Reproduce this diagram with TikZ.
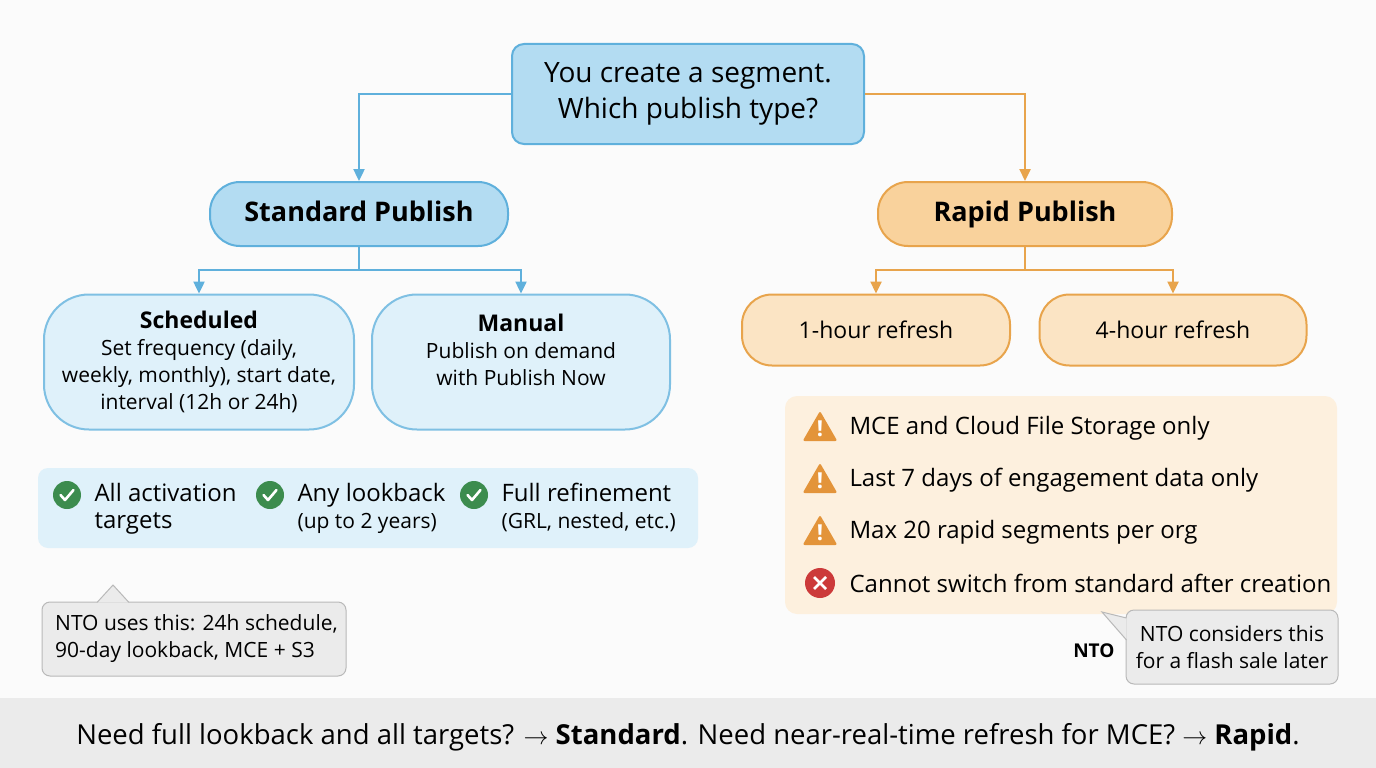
\documentclass[tikz,border=0pt]{standalone}
\usepackage{fontspec}
\setmainfont{Open Sans}
\usetikzlibrary{positioning,arrows.meta,shapes.geometric,shapes.callouts}
\definecolor{bluefill}{HTML}{B3DCF2}
\definecolor{blueline}{HTML}{5FB0DC}
\definecolor{bluelight}{HTML}{DFF1FA}
\definecolor{orfill}{HTML}{F9D29C}
\definecolor{orline}{HTML}{E8A44C}
\definecolor{orlight}{HTML}{FDF0DE}
\definecolor{okgreen}{HTML}{3C8C4E}
\definecolor{warnor}{HTML}{E3943A}
\definecolor{errred}{HTML}{CC3A3A}
\definecolor{notegray}{HTML}{EBEBEB}
\tikzset{
  blueflow/.style={draw=blueline, line width=2.4pt, -{Triangle[length=12pt,width=11pt]}},
  orflow/.style={draw=orline, line width=2.4pt, -{Triangle[length=12pt,width=11pt]}},
  pill/.style={rounded corners=30pt, line width=2pt, align=center, inner sep=0pt},
  item/.style={anchor=west, align=left, font=\fontsize{24}{27}\selectfont},
  okmark/.style={circle, fill=okgreen, minimum size=28pt, inner sep=0pt},
  warnmark/.style={regular polygon, regular polygon sides=3, fill=warnor, rounded corners=2pt, minimum size=40pt, inner sep=0pt},
  errmark/.style={circle, fill=errred, minimum size=30pt, inner sep=0pt},
  note/.style={draw=gray!55, fill=notegray, rounded corners=8pt, line width=1pt, inner sep=0pt, font=\fontsize{21}{27}\selectfont}
}
\begin{document}
\begin{tikzpicture}[x=1pt,y=-1pt]
\useasboundingbox (0,0) rectangle (1376,768);
\fill[white!97!gray] (0,0) rectangle (1376,698);

% decision
\node[draw=blueline, fill=bluefill, rounded corners=12pt, line width=2pt, minimum width=352pt, minimum height=100pt, align=center, font=\fontsize{28}{36}\selectfont] (ask) at (688,94) {You create a segment.\\Which publish type?};

% publish types
\node[pill, draw=blueline, fill=bluefill, minimum width=298pt, minimum height=64pt, text height=20pt, text depth=6pt, font=\fontsize{27}{30}\selectfont\bfseries] (std) at (359,214) {Standard Publish};
\node[pill, draw=orline, fill=orfill, minimum width=294pt, minimum height=64pt, text height=20pt, text depth=6pt, font=\fontsize{27}{30}\selectfont\bfseries] (rap) at (1025,214) {Rapid Publish};

\node[pill, draw=blueline!80, fill=bluelight, rounded corners=45pt, minimum width=310pt, minimum height=135pt, font=\fontsize{21}{27}\selectfont] (sched) at (199,362) {{\fontsize{23}{27}\selectfont\bfseries Scheduled}\\Set frequency (daily,\\weekly, monthly), start date,\\interval (12h or 24h)};
\node[pill, draw=blueline!80, fill=bluelight, rounded corners=45pt, minimum width=298pt, minimum height=135pt] (man) at (521,362) {};
\node[align=center, font=\fontsize{21}{27}\selectfont] (mantxt) at (521,350) {{\fontsize{23}{27}\selectfont\bfseries Manual}\\Publish on demand\\with Publish Now};

\node[pill, draw=orline, fill=orlight!60!orfill, minimum width=268pt, minimum height=71pt, font=\fontsize{23}{27}\selectfont] (one) at (876,330) {1-hour refresh};
\node[pill, draw=orline, fill=orlight!60!orfill, minimum width=267pt, minimum height=71pt, font=\fontsize{23}{27}\selectfont] (four) at (1173,330) {4-hour refresh};

\draw[blueflow] (ask.west) -| (std.north);
\draw[orflow] (ask.east) -| (rap.north);
\coordinate (stdfork) at (359,270);
\coordinate (rapfork) at (1025,270);
\draw[blueflow] (std.south) -- (stdfork) -| (sched.north);
\draw[blueflow] (stdfork) -| (man.north);
\draw[orflow] (rap.south) -- (rapfork) -| (one.north);
\draw[orflow] (rapfork) -| (four.north);

% standard benefits
\fill[bluelight] [rounded corners=10pt] (38,468) rectangle (698,548);
\foreach \x/\name/\txt in {67/okA/{All activation\\targets}, 270/okB/{Any lookback\\{\fontsize{21}{27}\selectfont(up to 2 years)}}, 474/okC/{Full refinement\\{\fontsize{21}{27}\selectfont(GRL, nested, etc.)}}}{
  \node[okmark] (\name) at (\x,495) {};
  \draw[white, line width=2.6pt, line cap=round, line join=round] ([xshift=-6.5pt,yshift=0pt]\name.center) -- ([xshift=-2pt,yshift=-5pt]\name.center) -- ([xshift=6.5pt,yshift=5pt]\name.center);
  \node[item, anchor=north west] at (\x+24,480) {\txt};
}

% rapid limits
\fill[orlight] [rounded corners=12pt] (785,396) rectangle (1337,614);
\foreach \y/\name/\txt in {428/wA/MCE and Cloud File Storage only, 480/wB/Last 7 days of engagement data only, 532/wC/Max 20 rapid segments per org}{
  \node[warnmark] (\name) at (820,\y+3) {};
  \node[white, font=\fontsize{22}{22}\selectfont\bfseries] at (820,\y+1) {!};
  \node[item] at (846,\y) {\txt};
}
\node[errmark] (err) at (820,583) {};
\draw[white, line width=2.6pt] ([shift={(-6pt,-6pt)}]err.center) -- ([shift={(6pt,6pt)}]err.center) ([shift={(-6pt,6pt)}]err.center) -- ([shift={(6pt,-6pt)}]err.center);
\node[item] at (846,583) {Cannot switch from standard after creation};

% notes
\node[note, minimum width=304pt, minimum height=74pt] (ntoA) at (194,639) {};
\node[anchor=west, align=left, font=\fontsize{21}{27}\selectfont, inner sep=0pt] (ntoAtxt) at (55,639) {NTO uses this: 24h schedule,\\90-day lookback, MCE + S3};
\draw[gray!55, fill=notegray, line width=1pt] (97,602.5) -- (113,585) -- (129,602.5);
\node[note, minimum width=212pt, minimum height=74pt, align=center] (ntoB) at (1232,647) {NTO considers this\\for a flash sale later};
\draw[gray!55, fill=notegray, line width=1pt] (1126.5,618) -- (1102,612) -- (1126.5,640);
\node[anchor=east, font=\fontsize{19}{22}\selectfont\bfseries] (nto) at (1118,651) {NTO};

% summary
\fill[notegray] (0,698) rectangle (1376,768);
\node[font=\fontsize{27.5}{30}\selectfont] (sum) at (688,737) {Need full lookback and all targets? $\rightarrow$ \textbf{Standard}. Need near-real-time refresh for MCE? $\rightarrow$ \textbf{Rapid}.};
\end{tikzpicture}
\end{document}
